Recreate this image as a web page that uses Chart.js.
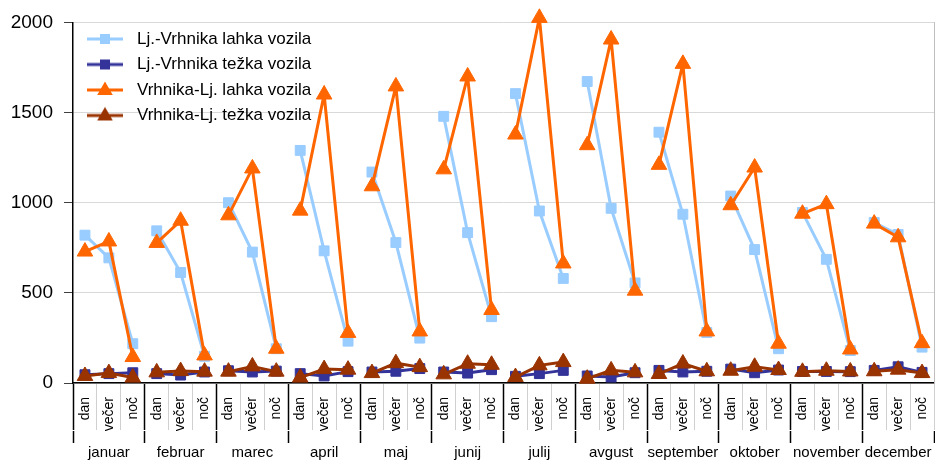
<!DOCTYPE html>
<html>
<head>
<meta charset="utf-8">
<script src="https://cdn.jsdelivr.net/npm/chart.js@4.4.1/dist/chart.umd.min.js"></script>
<style>
  html, body { margin: 0; padding: 0; background: #fff; }
</style>
</head>
<body>
<canvas id="myChart" width="935" height="460"></canvas>
<script>
const months = ["januar", "februar", "marec", "april", "maj", "junij", "julij", "avgust", "september", "oktober", "november", "december"];
const periods = ["dan", "večer", "noč"];

// dan, večer, noč for each month
const ljVrhnikaLahka = [820, 694, 218, 844, 613, 148, 1000, 726, 190, 1290, 733, 232, 1170, 779, 249, 1479, 834, 368, 1605, 954, 580, 1672, 969, 555, 1391, 936, 280, 1037, 740, 190, 946, 686, 180, 890, 824, 199];
const ljVrhnikaTezka = [46, 52, 57, 52, 44, 61, 68, 61, 66, 52, 39, 63, 61, 65, 80, 61, 55, 74, 37, 52, 70, 39, 33, 57, 70, 61, 65, 77, 57, 72, 64, 64, 63, 70, 90, 59];
const vrhnikaLjLahka = [729, 785, 144, 777, 900, 153, 930, 1190, 190, 956, 1600, 278, 1091, 1645, 286, 1185, 1700, 405, 1378, 2025, 663, 1319, 1905, 512, 1210, 1770, 286, 986, 1195, 218, 939, 992, 186, 884, 808, 221];
const vrhnikaLjTezka = [39, 55, 30, 59, 66, 63, 63, 92, 63, 30, 77, 74, 55, 110, 88, 48, 107, 101, 33, 98, 116, 24, 70, 59, 50, 108, 65, 68, 90, 72, 62, 68, 64, 65, 74, 55];

const seriesNames = ["Lj.-Vrhnika lahka vozila", "Lj.-Vrhnika težka vozila", "Vrhnika-Lj. lahka vozila", "Vrhnika-Lj. težka vozila"];
const yMin = 0, yMax = 2000, yStep = 500;

const labels = [];
months.forEach(() => periods.forEach((p) => labels.push(p)));

const FONT = "'Liberation Sans', Arial, sans-serif";

// small line + marker picture for the legend
function legendIcon(color, style) {
  const c = document.createElement("canvas");
  c.width = 36;
  c.height = 20;
  const ctx = c.getContext("2d");
  ctx.strokeStyle = color;
  ctx.fillStyle = color;
  ctx.lineWidth = 3;
  ctx.beginPath();
  ctx.moveTo(0, 10);
  ctx.lineTo(36, 10);
  ctx.stroke();
  ctx.beginPath();
  if (style === "rect") {
    ctx.rect(13, 5, 10, 10);
  } else {
    ctx.moveTo(18, 1.5);
    ctx.lineTo(25.8, 15);
    ctx.lineTo(10.2, 15);
    ctx.closePath();
  }
  ctx.fill();
  return c;
}

function makeSeries(label, data, color, style, radius, order) {
  return {
    label: label,
    data: data,
    borderColor: color,
    backgroundColor: color,
    borderWidth: 3,
    pointStyle: style,
    pointRadius: radius,
    pointBorderWidth: 1,
    pointBorderColor: color,
    pointBackgroundColor: color,
    order: order,
    tension: 0,
    clip: false,
    // break the line between months
    segment: {
      borderColor: (ctx) => (ctx.p0DataIndex % 3 === 2 ? "rgba(0,0,0,0)" : undefined),
    },
    icon: legendIcon(color, style),
  };
}

const data = {
  labels: labels,
  datasets: [
    makeSeries(seriesNames[0], ljVrhnikaLahka, "#99ccff", "rect", 7, 3),
    makeSeries(seriesNames[1], ljVrhnikaTezka, "#333399", "rect", 7, 2),
    makeSeries(seriesNames[2], vrhnikaLjLahka, "#ff6600", "triangle", 9, 1),
    makeSeries(seriesNames[3], vrhnikaLjTezka, "#993300", "triangle", 9, 0),
  ],
};

function noSidePadding(scale, h) {
  scale.height = h;
  scale.paddingLeft = 0;
  scale.paddingRight = 0;
}

const config = {
  type: "line",
  data,
  options: {
    responsive: false,
    animation: false,
    devicePixelRatio: 1,
    layout: { autoPadding: false, padding: { top: 20, left: 0, right: 0, bottom: 0 } },
    plugins: {
      tooltip: { enabled: false },
      legend: {
        position: "chartArea",
        align: "start",
        // empty title only pushes the entries down
        title: { display: true, text: "", font: { size: 10 }, padding: { top: 10, bottom: 0 } },
        labels: {
          usePointStyle: true,
          pointStyleWidth: 47,
          padding: 8.5,
          color: "#000",
          font: { family: FONT, size: 17 },
          generateLabels: (chart) =>
            chart.data.datasets.map((ds, i) => ({
              text: ds.label,
              pointStyle: ds.icon,
              fillStyle: ds.borderColor,
              strokeStyle: ds.borderColor,
              lineWidth: 0,
              hidden: false,
              datasetIndex: i,
              fontColor: "#000",
            })),
        },
      },
    },
    scales: {
      x: {
        type: "category",
        position: "bottom",
        offset: true,
        afterFit: (scale) => noSidePadding(scale, 48),
        grid: {
          offset: true,
          drawOnChartArea: false,
          tickLength: 47,
          tickColor: (ctx) => (ctx.index % 3 === 0 ? "#000" : "#d0d0d0"),
          tickWidth: (ctx) => (ctx.index % 3 === 0 ? 1.5 : 1),
        },
        border: { color: "#000", width: 1.5 },
        ticks: {
          autoSkip: false,
          minRotation: 90,
          maxRotation: 90,
          padding: -33,
          color: "#000",
          font: { family: FONT, size: 14 },
        },
      },
      months: {
        type: "category",
        position: "bottom",
        labels: months,
        offset: true,
        afterFit: (scale) => noSidePadding(scale, 29),
        grid: {
          offset: true,
          drawOnChartArea: false,
          tickLength: 12,
          tickColor: "#000",
          tickWidth: 1.5,
        },
        border: { display: false },
        ticks: {
          autoSkip: false,
          maxRotation: 0,
          padding: 2,
          color: "#000",
          font: { family: FONT, size: 15, lineHeight: 1 },
        },
      },
      y: {
        min: yMin,
        max: yMax,
        afterFit: (scale) => { scale.width = 73; },
        grid: { color: "#d9d9d9", tickLength: 9, tickColor: "#404040" },
        border: { color: "#000", width: 1.5 },
        ticks: {
          stepSize: yStep,
          padding: 11,
          color: "#000",
          font: { family: FONT, size: 19 },
          callback: (v) => String(v),
        },
      },
      yRight: {
        position: "right",
        min: yMin,
        max: yMax,
        afterFit: (scale) => { scale.width = 1; },
        grid: { drawOnChartArea: false, drawTicks: false },
        border: { color: "#bfbfbf", width: 1 },
        ticks: { display: false },
      },
    },
  },
};

const myChart = new Chart(document.getElementById("myChart"), config);
</script>
</body>
</html>
